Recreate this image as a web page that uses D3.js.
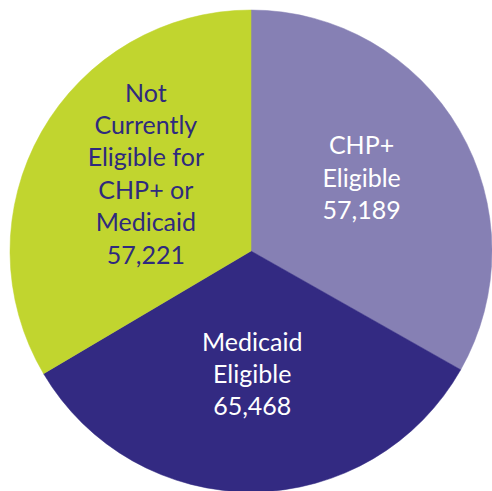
<!DOCTYPE html>
<html>
<head>
<meta charset="utf-8">
<script src="https://cdn.jsdelivr.net/npm/d3@7"></script>
<style>
  html, body { margin: 0; padding: 0; background: #fff; }
  svg { display: block; }
</style>
</head>
<body>
<div id="pieChart"></div>
<script>
// categories + values as printed on the slices
const categories = ["CHP+ Eligible", "Medicaid Eligible", "Not Currently Eligible"];
const values = [57189, 65468, 57221];
// slice sizes as they are drawn in the picture (about equal thirds)
const drawnShare = [33.2, 33.3, 33.5];
// label text, one array per slice
const labelLines = [
  ["CHP+", "Eligible"],
  ["Medicaid", "Eligible"],
  ["Not", "Currently", "Eligible for", "CHP+ or", "Medicaid"]
];
const sliceColors = ["#8680b4", "#332a82", "#c1d52f"];
const textColors = ["#ffffff", "#ffffff", "#2f2a7e"];

const width = 492;
const height = 491;
const cx = 251, cy = 251, radius = 241;

// small hand nudges so the label blocks sit where the original puts them
const labelNudge = [[0, 0], [0, 4], [6, -5]];

const svg = d3.select("#pieChart")
  .append("svg")
  .attr("width", width)
  .attr("height", height);

const g = svg.append("g")
  .attr("transform", `translate(${cx}, ${cy})`);

const rows = categories.map((c, i) => ({
  category: c,
  value: values[i],
  share: drawnShare[i],
  lines: labelLines[i].concat([d3.format(",")(values[i])]),
  i: i
}));

// pie generator, clockwise from 12 o'clock, keep data order
const pieGen = d3.pie()
  .value(d => d.share)
  .sort(null);

const arcs = pieGen(rows);

const arcGen = d3.arc()
  .innerRadius(0)
  .outerRadius(radius);

const labelArc = d3.arc()
  .innerRadius(128)
  .outerRadius(128);

g.selectAll("path.slice")
  .data(arcs)
  .join("path")
  .attr("class", "slice")
  .attr("d", arcGen)
  .attr("fill", d => sliceColors[d.data.i])
  .attr("stroke", d => sliceColors[d.data.i])
  .attr("stroke-width", 0.5);

// labels: lines stacked around the centroid
const lineH = 32.4;
const labels = g.selectAll("text.label")
  .data(arcs)
  .join("text")
  .attr("class", "label")
  .attr("text-anchor", "middle")
  .attr("font-family", "Lato, 'Open Sans', sans-serif")
  .attr("font-size", "25px")
  .attr("fill", d => textColors[d.data.i]);

labels.each(function(d) {
  const c = labelArc.centroid(d);
  const x = c[0] + labelNudge[d.data.i][0];
  const y = c[1] + labelNudge[d.data.i][1];
  const n = d.data.lines.length;
  d3.select(this).selectAll("tspan")
    .data(d.data.lines)
    .join("tspan")
    .attr("x", x)
    .attr("y", (t, k) => y + (k - (n - 1) / 2) * lineH)
    .text(t => t);
});
</script>
</body>
</html>
